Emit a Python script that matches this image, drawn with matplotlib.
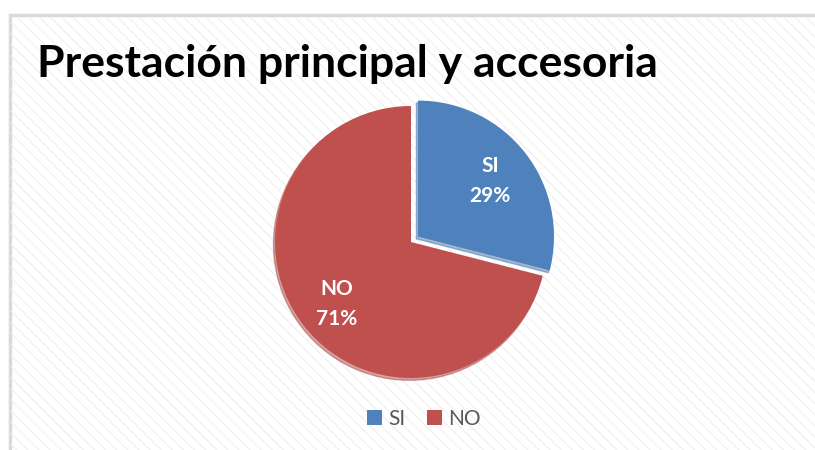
import matplotlib
matplotlib.use("Agg")
import matplotlib.pyplot as plt
from matplotlib.patches import Rectangle

categories = ["SI", "NO"]
values = [29, 71]
colors = ["#4F81BD", "#C0504D"]
title = "Prestación principal y accesoria"

W, H = 815, 450
fig = plt.figure(figsize=(W / 100, H / 100), dpi=100)
fig.patch.set_facecolor("white")

# chart frame with faint diagonal hatch
frame = Rectangle((10 / W, -0.05), 1.0, (H - 15) / H + 0.05, transform=fig.transFigure,
                  facecolor="white", edgecolor="#D9D9D9", linewidth=2.5, zorder=-2)
fig.patches.append(frame)
hatch = Rectangle((11 / W, -0.05), 1.0, (H - 17) / H + 0.05, transform=fig.transFigure,
                  facecolor="none", edgecolor="#F2F2F2", hatch="\\\\\\", linewidth=0, zorder=-1)
fig.patches.append(hatch)

fig.text(37 / W, 1 - 64 / H, title, fontsize=32, fontweight="bold", family="Lato",
         color="black", va="center", ha="left")

cx, cy, r = 411, 242, 136
s = 1.25
ax = fig.add_axes([(cx - r * s) / W, (H - cy - r * s) / H, 2 * r * s / W, 2 * r * s / H])
ax.set_xlim(-s, s)
ax.set_ylim(-s, s)
ax.set_aspect("equal")
ax.axis("off")

wedges, texts = ax.pie(values, colors=colors, startangle=90, counterclock=False,
                       explode=[0.065, 0], radius=1.0,
                       labels=None,
                       shadow={"ox": -0.008, "oy": -0.012, "shade": 0.1})

def pct_label(i):
    return f"{categories[i]}\n{values[i]}%"

ax.text(79 / r, (cy - 181) / r, pct_label(0), ha="center", va="center", color="white",
        fontsize=15, fontweight="bold", family="Lato", linespacing=1.6)
ax.text(-74 / r, (cy - 304) / r, pct_label(1), ha="center", va="center", color="white",
        fontsize=15, fontweight="bold", family="Lato", linespacing=1.6)

leg = fig.legend(wedges, categories, loc="center", bbox_to_anchor=(424 / W, 1 - 419 / H),
                 ncol=2, frameon=False, handlelength=0.75, handleheight=0.75,
                 handletextpad=0.3, columnspacing=1.0,
                 prop={"family": "Lato", "size": 15})
for t in leg.get_texts():
    t.set_color("#595959")

fig.savefig("out.png", dpi=100)
